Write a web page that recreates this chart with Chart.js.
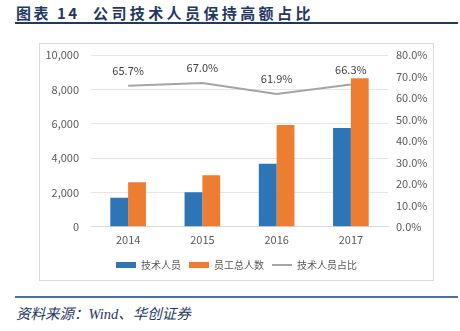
<!DOCTYPE html>
<html>
<head>
<meta charset="utf-8">
<script src="https://cdn.jsdelivr.net/npm/chart.js@4/dist/chart.umd.min.js"></script>
<style>
  body { margin: 0; width: 460px; height: 331px; background: #fff; position: relative; overflow: hidden; }
  .title { position: absolute; top: 2px; font-family: "Noto Sans CJK SC", sans-serif; font-weight: bold; font-size: 15px; color: #1f3864; letter-spacing: 3.4px; white-space: nowrap; }
  .rule-top { position: absolute; left: 15px; top: 22px; width: 443px; height: 2px; background: #1f3864; }
  .box { position: absolute; left: 39px; top: 43px; width: 395px; height: 238px; border: 1px solid #d9d9d9; box-sizing: border-box; }
  .rule-bottom { position: absolute; left: 15px; top: 296px; width: 443px; height: 2px; background: #4f6f9f; }
  .source { position: absolute; left: 16px; top: 302px; font-family: "Liberation Serif", "Noto Sans CJK SC", serif; font-style: italic; font-size: 14.5px; color: #1f3864; white-space: nowrap; }
</style>
</head>
<body>
<div class="title" style="left:16px; letter-spacing:2.5px">图表 14</div>
<div class="title" style="left:93px">公司技术人员保持高额占比</div>
<div class="rule-top"></div>
<div class="box"><canvas id="chart" width="393" height="236"></canvas></div>
<div class="rule-bottom"></div>
<div class="source">资料来源：Wind、华创证券</div>
<script>
const years = ['2014', '2015', '2016', '2017'];
const techStaff = [1690, 2010, 3670, 5750];
const totalStaff = [2590, 3000, 5920, 8650];
const techShare = [65.7, 67.0, 61.9, 66.3];
const seriesNames = ['技术人员', '员工总人数', '技术人员占比'];

const textColor = '#595959';
const tickFont = { family: '"Noto Sans CJK SC", sans-serif', size: 11 };

const lineLabels = {
  id: 'lineLabels',
  afterDatasetsDraw(chart) {
    const ctx = chart.ctx;
    const meta = chart.getDatasetMeta(2);
    ctx.save();
    ctx.font = '11px "Noto Sans CJK SC", sans-serif';
    ctx.fillStyle = '#404040';
    ctx.textAlign = 'center';
    ctx.textBaseline = 'middle';
    meta.data.forEach((pt, i) => {
      ctx.fillText(techShare[i].toFixed(1) + '%', pt.x, pt.y - 15);
    });
    ctx.restore();
  }
};

// vertical axes: fixed width and fixed top gap
function fixAxis(width) {
  return scale => {
    scale.width = width;
    scale.paddingTop = 11;
    scale.paddingBottom = 0;
  };
}

new Chart(document.getElementById('chart'), {
  type: 'bar',
  data: {
    labels: years,
    datasets: [
      { label: seriesNames[0], data: techStaff, backgroundColor: '#2e75b6', yAxisID: 'y',
        categoryPercentage: 0.48, barPercentage: 1 },
      { label: seriesNames[1], data: totalStaff, backgroundColor: '#ed7d31', yAxisID: 'y',
        categoryPercentage: 0.48, barPercentage: 1 },
      { type: 'line', label: seriesNames[2], data: techShare, borderColor: '#a5a5a5',
        backgroundColor: '#a5a5a5', borderWidth: 2, pointRadius: 0, tension: 0, yAxisID: 'y1' }
    ]
  },
  options: {
    responsive: false,
    animation: false,
    layout: { padding: { top: 0, left: 0, right: 0, bottom: 0 } },
    plugins: {
      tooltip: { enabled: false },
      legend: {
        position: 'bottom',
        labels: {
          color: textColor,
          font: { family: '"Noto Sans CJK SC", sans-serif', size: 10 },
          usePointStyle: true,
          pointStyleWidth: 20,
          boxHeight: 6,
          padding: 8,
          generateLabels(chart) {
            return chart.data.datasets.map((ds, i) => ({
              text: ds.label,
              fillStyle: ds.backgroundColor,
              strokeStyle: ds.type === 'line' ? ds.borderColor : ds.backgroundColor,
              lineWidth: ds.type === 'line' ? 2 : 0,
              pointStyle: ds.type === 'line' ? 'line' : 'rect',
              fontColor: textColor,
              datasetIndex: i,
              hidden: false
            }));
          }
        }
      }
    },
    scales: {
      x: {
        grid: { display: false, drawTicks: false },
        border: { color: '#d9d9d9' },
        ticks: { color: textColor, font: tickFont, padding: 6 }
      },
      y: {
        position: 'left',
        min: 0, max: 10000,
        ticks: { stepSize: 2000, color: textColor, font: tickFont, padding: 12,
          callback: v => v.toLocaleString('en-US') },
        grid: { color: '#e6e6e6', drawTicks: false },
        border: { display: false },
        afterFit: fixAxis(51)
      },
      y1: {
        position: 'right',
        min: 0, max: 80,
        ticks: { stepSize: 10, color: textColor, font: tickFont, padding: 8,
          callback: v => v.toFixed(1) + '%' },
        grid: { display: false, drawTicks: false },
        border: { display: false },
        afterFit: fixAxis(45)
      }
    }
  },
  plugins: [lineLabels]
});
</script>
</body>
</html>
